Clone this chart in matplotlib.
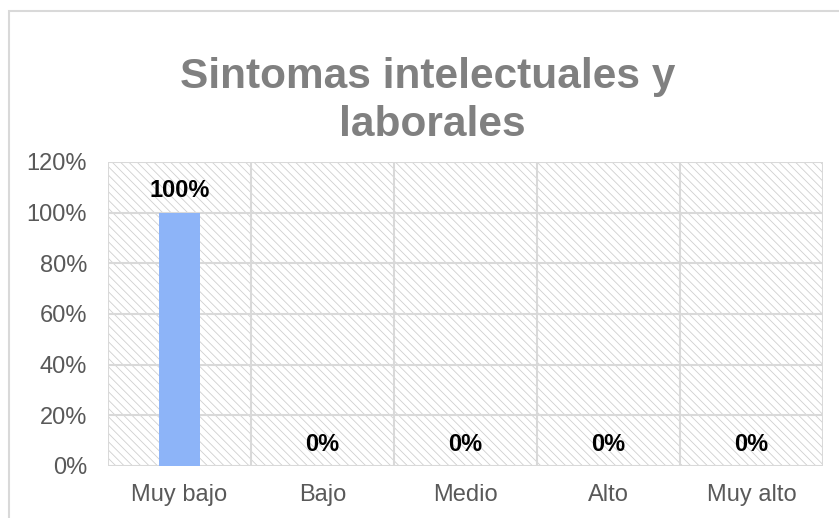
import matplotlib.pyplot as plt
from matplotlib.patches import Rectangle
from matplotlib.ticker import PercentFormatter

plt.rcParams['font.family'] = ['Liberation Sans', 'DejaVu Sans']
plt.rcParams['hatch.linewidth'] = 0.6

categories = ['Muy bajo', 'Bajo', 'Medio', 'Alto', 'Muy alto']
values = [1.0, 0.0, 0.0, 0.0, 0.0]
yticks = [0, 0.2, 0.4, 0.6, 0.8, 1.0, 1.2]

grid_col = '#d9d9d9'

fig = plt.figure(figsize=(8.39, 5.18), dpi=100)
ax = fig.add_axes([108/839, 52/518, 715/839, 304/518])

# chart border (runs off the image on the right and bottom)
fig.patches.append(Rectangle((9/839, -0.1), 1.2, 1 - 11/518 + 0.1,
                             transform=fig.transFigure, fill=False,
                             edgecolor=grid_col, linewidth=1.5))

# hatched plot background
ax.add_patch(Rectangle((0, 0), 1, 1, transform=ax.transAxes, facecolor='white',
                       edgecolor='#d0d0d0', hatch='\\\\\\\\', linewidth=0, zorder=0))

x = range(len(categories))
ax.bar(x, values, width=0.28, color='#8db4f8', zorder=3)

for xi, v in zip(x, values):
    ax.annotate(f'{v:.0%}', (xi, v), xytext=(0, 11), textcoords='offset points',
                ha='center', va='baseline', fontsize=17, fontweight='bold',
                color='black', zorder=4)

ax.set_xlim(-0.5, len(categories) - 0.5)
ax.set_ylim(0, 1.2)
ax.set_yticks(yticks)
ax.yaxis.set_major_formatter(PercentFormatter(1.0, decimals=0))
ax.set_xticks(list(x))
ax.set_xticklabels(categories)
ax.tick_params(length=0, labelsize=17, labelcolor='#595959')
ax.tick_params(axis='y', pad=15)
ax.tick_params(axis='x', pad=13)

for yv in yticks:
    ax.axhline(yv, color=grid_col, linewidth=1.5, zorder=1)
for xb in [i - 0.5 for i in range(len(categories) + 1)]:
    ax.axvline(xb, color=grid_col, linewidth=1.5, zorder=1)
for s in ax.spines.values():
    s.set_visible(False)

fig.text(428/839, 1 - 88/518, 'Sintomas intelectuales y', ha='center', va='baseline',
         fontsize=30.5, fontweight='bold', color='#808080')
fig.text(432/839, 1 - 136/518, 'laborales', ha='center', va='baseline',
         fontsize=30.5, fontweight='bold', color='#808080')

fig.savefig('out.png', dpi=100)
